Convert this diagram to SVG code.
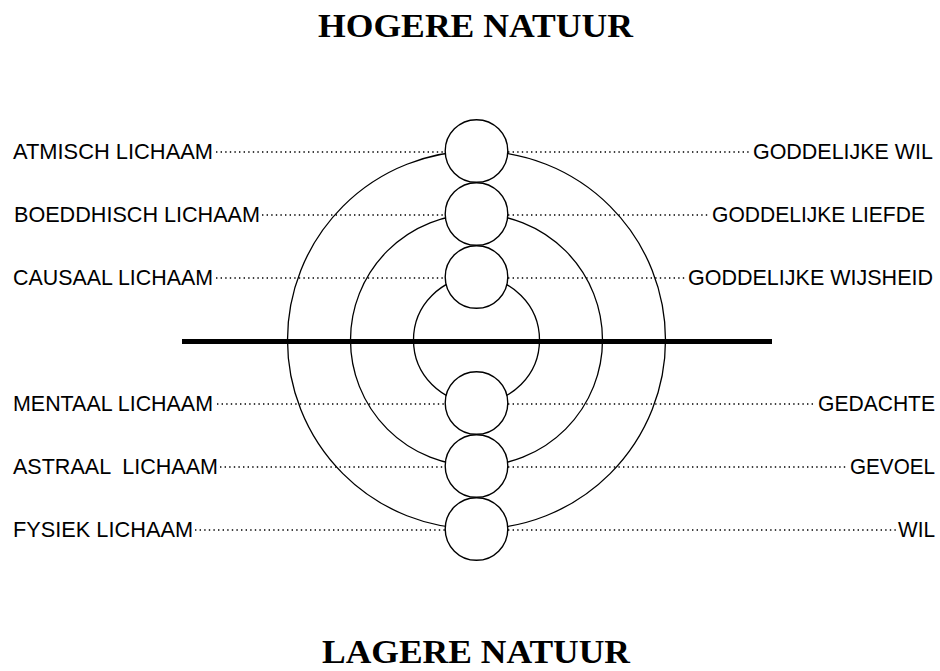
<svg xmlns="http://www.w3.org/2000/svg" width="940" height="671" viewBox="0 0 940 671">
<style>
.title{font-family:"Liberation Serif","Times New Roman",serif;font-weight:bold;font-size:33px;fill:#000}
.lbl{font-family:"Liberation Sans",Arial,sans-serif;font-size:21.5px;fill:#000}
.ring{fill:none;stroke:#000;stroke-width:1.3}
.node{fill:#fff;stroke:#000;stroke-width:1.4}
.dot{stroke:#000;stroke-width:1.6;stroke-dasharray:1.4 3.2;fill:none}
.bar{stroke:#000;stroke-width:5}
</style>
<rect width="940" height="671" fill="#fff"/>
<text id="title-top" class="title" x="318" y="37" textLength="315" lengthAdjust="spacingAndGlyphs">HOGERE NATUUR</text>
<text id="title-bottom" class="title" x="322" y="663" textLength="308" lengthAdjust="spacingAndGlyphs">LAGERE NATUUR</text>
<g id="rings">
<circle class="ring" cx="476.5" cy="340" r="189"/>
<circle class="ring" cx="476.5" cy="340" r="126"/>
<circle class="ring" cx="476.5" cy="340" r="63"/>
<line class="bar" x1="182" y1="341.5" x2="772" y2="341.5"/>
</g>
<g id="connectors">
<line class="dot" x1="216" y1="152" x2="446" y2="152"/>
<line class="dot" x1="508" y1="152" x2="751" y2="152"/>
<line class="dot" x1="262" y1="215" x2="446" y2="215"/>
<line class="dot" x1="508" y1="215" x2="710" y2="215"/>
<line class="dot" x1="216" y1="278" x2="446" y2="278"/>
<line class="dot" x1="508" y1="278" x2="686" y2="278"/>
<line class="dot" x1="217" y1="404" x2="446" y2="404"/>
<line class="dot" x1="508" y1="404" x2="816" y2="404"/>
<line class="dot" x1="220" y1="467" x2="446" y2="467"/>
<line class="dot" x1="508" y1="467" x2="848" y2="467"/>
<line class="dot" x1="195" y1="530" x2="446" y2="530"/>
<line class="dot" x1="508" y1="530" x2="896" y2="530"/>
</g>
<g id="atmisch">
<circle class="node" cx="476.5" cy="151" r="31.3"/>
<text class="lbl" x="13" y="159" textLength="200" lengthAdjust="spacingAndGlyphs">ATMISCH LICHAAM</text>
<text class="lbl" x="753" y="159" textLength="180" lengthAdjust="spacingAndGlyphs">GODDELIJKE WIL</text>
</g>
<g id="boeddhisch">
<circle class="node" cx="476.5" cy="214" r="31.3"/>
<text class="lbl" x="14" y="222" textLength="246" lengthAdjust="spacingAndGlyphs">BOEDDHISCH LICHAAM</text>
<text class="lbl" x="712" y="222" textLength="213" lengthAdjust="spacingAndGlyphs">GODDELIJKE LIEFDE</text>
</g>
<g id="causaal">
<circle class="node" cx="476.5" cy="277" r="31.3"/>
<text class="lbl" x="13" y="285" textLength="200" lengthAdjust="spacingAndGlyphs">CAUSAAL LICHAAM</text>
<text class="lbl" x="688" y="285" textLength="245" lengthAdjust="spacingAndGlyphs">GODDELIJKE WIJSHEID</text>
</g>
<g id="mentaal">
<circle class="node" cx="476.5" cy="403" r="31.3"/>
<text class="lbl" x="13" y="411" textLength="200" lengthAdjust="spacingAndGlyphs">MENTAAL LICHAAM</text>
<text class="lbl" x="818" y="411" textLength="117" lengthAdjust="spacingAndGlyphs">GEDACHTE</text>
</g>
<g id="astraal">
<circle class="node" cx="476.5" cy="466" r="31.3"/>
<text class="lbl" x="13" y="474" textLength="205" lengthAdjust="spacingAndGlyphs" xml:space="preserve">ASTRAAL  LICHAAM</text>
<text class="lbl" x="850" y="474" textLength="85" lengthAdjust="spacingAndGlyphs">GEVOEL</text>
</g>
<g id="fysiek">
<circle class="node" cx="476.5" cy="529" r="31.3"/>
<text class="lbl" x="13" y="537" textLength="180" lengthAdjust="spacingAndGlyphs">FYSIEK LICHAAM</text>
<text class="lbl" x="898" y="537" textLength="37" lengthAdjust="spacingAndGlyphs">WIL</text>
</g>
</svg>
